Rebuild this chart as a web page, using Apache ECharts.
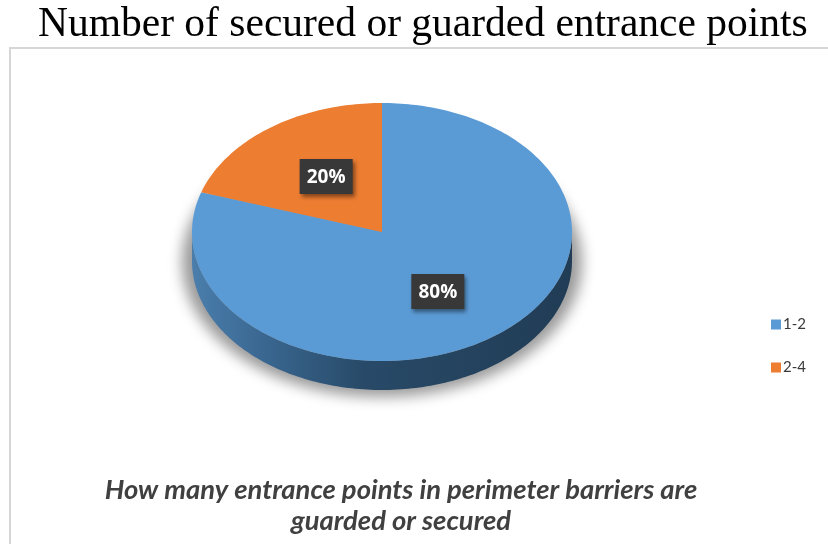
<!DOCTYPE html>
<html>
<head>
<meta charset="utf-8">
<script src="https://cdn.jsdelivr.net/npm/echarts@6/dist/echarts.min.js"></script>
<style>
  html, body { margin: 0; padding: 0; background: #ffffff; }
  #chart { width: 828px; height: 544px; }
</style>
</head>
<body>
<div id="chart"></div>
<script>
// Entrance point counts and their share of responses (%)
const categories = ['1-2', '2-4'];
const shares = [80, 20];

const palette = ['#5b9bd5', '#ed7d31'];

const titleText = 'Number of secured or guarded entrance points';
const captionLines = ['How many entrance points in perimeter barriers are', 'guarded or secured'];

// Tilted-disc geometry for the 3D pie
const CX = 382, CY = 232, RX = 190, RY = 129, DEPTH = 29;
const total = shares.reduce((s, v) => s + v, 0);
const starts = [];
shares.reduce((acc, v, i) => { starts[i] = acc; return acc + v; }, 0);

function pt(theta, dy) {
  return [CX + RX * Math.sin(theta), CY - RY * Math.cos(theta) + (dy || 0)];
}
function arc(a0, a1, dy) {
  const pts = [];
  const n = Math.max(2, Math.ceil((a1 - a0) / 0.02));
  for (let k = 0; k <= n; k++) pts.push(pt(a0 + (a1 - a0) * k / n, dy));
  return pts;
}
function sliceAngles(i, v) {
  const a0 = starts[i] / total * Math.PI * 2;
  return [a0, a0 + v / total * Math.PI * 2];
}

const sideGradient = new echarts.graphic.LinearGradient(0, 0, 1, 0, [
  { offset: 0, color: '#4b7eac' },
  { offset: 0.18, color: '#3a6892' },
  { offset: 0.45, color: '#284a68' },
  { offset: 1, color: '#213c55' }
]);

const chart = echarts.init(document.getElementById('chart'), null, { renderer: 'canvas' });

chart.setOption({
  animation: false,
  color: palette,
  title: [{
    text: titleText,
    left: 33,
    top: -1,
    textStyle: { fontFamily: 'Liberation Serif', fontSize: 41.5, fontWeight: 'normal', color: '#000000' }
  }],
  graphic: [{
    type: 'rect',
    shape: { x: 10, y: 48, width: 840, height: 520 },
    style: { fill: 'none', stroke: '#d6d6d6', lineWidth: 2 },
    silent: true
  }, {
    // soft cast shadow under the disc (shape kept off-canvas, only its shadow lands)
    type: 'ellipse',
    z: -1,
    shape: { cx: CX - 2000, cy: CY + 30, rx: RX + 10, ry: RY + 6 },
    style: {
      fill: '#000',
      shadowBlur: 14,
      shadowOffsetX: 2000,
      shadowOffsetY: 0,
      shadowColor: 'rgba(0,0,0,0.4)'
    },
    silent: true
  }, {
    type: 'text',
    x: 401,
    y: 475,
    style: {
      text: captionLines.join('\n'),
      font: 'italic bold 27.4px Lato',
      fill: '#404040',
      align: 'center',
      lineHeight: 31
    },
    silent: true
  }],
  legend: {
    orient: 'vertical',
    left: 766,
    top: 312,
    itemWidth: 10,
    itemHeight: 10,
    itemGap: 28,
    icon: 'rect',
    data: categories,
    textStyle: { fontFamily: 'Lato', fontSize: 15, color: '#3a3a3a', padding: [0, 0, 0, -3] }
  },
  series: [{
    // legend entries
    type: 'pie',
    name: 'share',
    center: [-200, -200],
    radius: [0, 0],
    silent: true,
    label: { show: false },
    labelLine: { show: false },
    data: categories.map((c, i) => ({ name: c, value: shares[i] }))
  }, {
    // front wall of the disc
    type: 'custom',
    coordinateSystem: 'none',
    silent: true,
    z: 1,
    data: shares,
    renderItem: function (params, api) {
      const i = params.dataIndex;
      const [a0, a1] = sliceAngles(i, api.value(0));
      const s = Math.max(a0, Math.PI / 2), e = Math.min(a1, Math.PI * 1.5);
      if (e <= s) return { type: 'group', children: [] };
      const pts = arc(s, e, 0).concat(arc(s, e, DEPTH).reverse());
      return {
        type: 'polygon',
        shape: { points: pts },
        style: { fill: i === 0 ? sideGradient : '#8a4418' }
      };
    }
  }, {
    // top faces and value labels
    type: 'custom',
    coordinateSystem: 'none',
    silent: true,
    z: 2,
    data: shares,
    renderItem: function (params, api) {
      const i = params.dataIndex;
      const v = api.value(0);
      const [a0, a1] = sliceAngles(i, v);
      const top = [[CX, CY]].concat(arc(a0, a1, 0));
      const mid = (a0 + a1) / 2;
      const lx = CX + 0.5 * RX * Math.sin(mid);
      const ly = CY - 0.55 * RY * Math.cos(mid) + 2;
      const bw = 53, bh = 35;
      return {
        type: 'group',
        children: [{
          type: 'polygon',
          shape: { points: top },
          style: { fill: palette[i] }
        }, {
          type: 'rect',
          z2: 5,
          shape: { x: lx - bw / 2, y: ly - bh / 2, width: bw, height: bh },
          style: {
            fill: '#383838',
            shadowBlur: 4,
            shadowOffsetX: 2,
            shadowOffsetY: 3,
            shadowColor: 'rgba(0,0,0,0.45)'
          }
        }, {
          type: 'text',
          z2: 6,
          x: lx,
          y: ly + 1,
          style: {
            text: Math.round(v) + '%',
            fill: '#ffffff',
            font: 'bold 19px "Open Sans"',
            align: 'center',
            verticalAlign: 'middle'
          }
        }]
      };
    }
  }]
});
</script>
</body>
</html>
